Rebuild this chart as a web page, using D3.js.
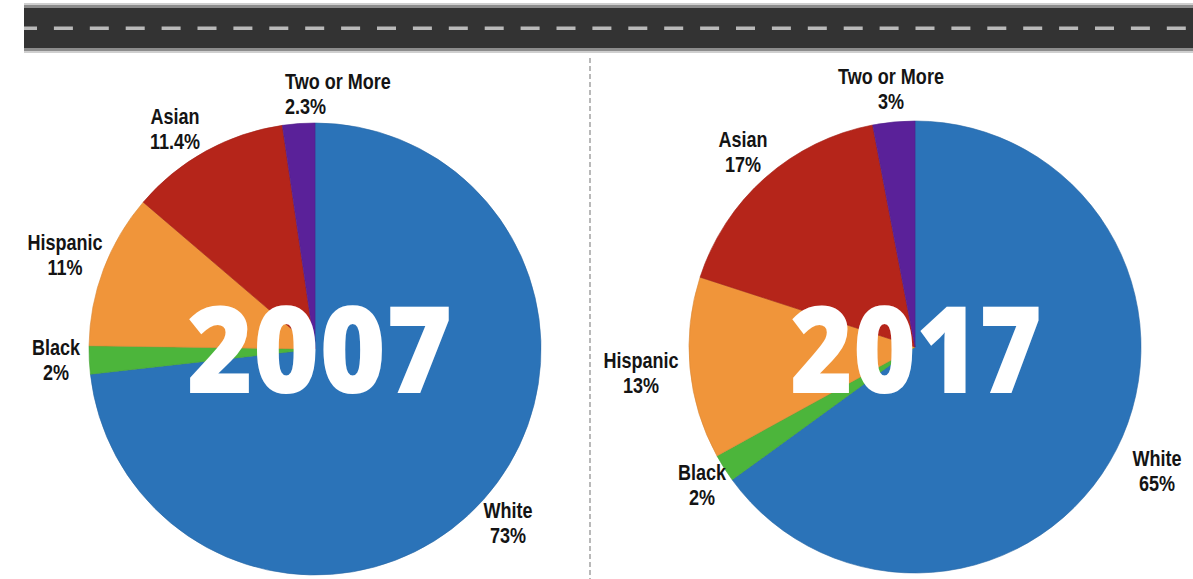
<!DOCTYPE html>
<html>
<head>
<meta charset="utf-8">
<script src="https://cdn.jsdelivr.net/npm/d3@7/dist/d3.min.js"></script>
<style>
  html, body { margin: 0; padding: 0; background: #fff; }
  svg { display: block; }
</style>
</head>
<body>
<svg id="chart" width="1193" height="579"></svg>
<script>
// Student body by race/ethnicity, share in percent
const groups = ["White", "Black", "Hispanic", "Asian", "Two or More"];
const share2007 = [73, 2, 11, 11.4, 2.3];
const share2017 = [65, 2, 13, 17, 3];
const years = ["2007", "2017"];

const groupColors = ["#2b73b8", "#4cb53b", "#f0953a", "#b5251a", "#5a2199"];

const svg = d3.select("#chart");
const W = 1193, H = 579;

// ---- road banner across the top ----
const road = svg.append("g");
road.append("rect").attr("x", 24).attr("y", 3).attr("width", W - 24).attr("height", 50).attr("fill", "#8c8c8c");
road.append("rect").attr("x", 24).attr("y", 3).attr("width", W - 24).attr("height", 2).attr("fill", "#cfcfcf");
road.append("rect").attr("x", 24).attr("y", 51).attr("width", W - 24).attr("height", 2).attr("fill", "#cfcfcf");
road.append("rect").attr("x", 24).attr("y", 8).attr("width", W - 24).attr("height", 40).attr("fill", "#333333");
const dashX = d3.range(18, W, 35.9);
road.selectAll("rect.lane").data(dashX).join("rect")
  .attr("class", "lane")
  .attr("x", d => Math.max(d, 24))
  .attr("y", 26.5)
  .attr("width", d => Math.min(d + 19, W) - Math.max(d, 24))
  .attr("height", 3.5)
  .attr("fill", "#b9b9b9");

// ---- dashed divider between the two years ----
svg.append("line")
  .attr("x1", 590).attr("x2", 590).attr("y1", 58).attr("y2", H)
  .attr("stroke", "#8a8a8a").attr("stroke-width", 1.2)
  .attr("stroke-dasharray", "5,3");

// ---- pies ----
const color = d3.scaleOrdinal().domain(groups).range(groupColors);
const pie = d3.pie().sort(null).value(d => d.value);
const radius = 226;
const arc = d3.arc().innerRadius(0).outerRadius(radius);

const panels = [
  {
    year: years[0], values: share2007, cx: 315, cy: 349,
    yearBox: { cx: 319.5, base: 393, width: 255 },
    labels: {
      "White":       { x: 508, y: 518, anchor: "middle" },
      "Black":       { x: 56,  y: 355, anchor: "middle" },
      "Hispanic":    { x: 65,  y: 250, anchor: "middle" },
      "Asian":       { x: 175, y: 124, anchor: "middle" },
      "Two or More": { x: 285, y: 89,  anchor: "start" }
    }
  },
  {
    year: years[1], values: share2017, cx: 915, cy: 347,
    yearBox: { cx: 916, base: 393, width: 242 },
    labels: {
      "White":       { x: 1157, y: 466, anchor: "middle" },
      "Black":       { x: 702,  y: 480, anchor: "middle" },
      "Hispanic":    { x: 641,  y: 368, anchor: "middle" },
      "Asian":       { x: 743,  y: 147, anchor: "middle" },
      "Two or More": { x: 891,  y: 84,  anchor: "middle" }
    }
  }
];

const labelFont = "'Liberation Sans', Arial, sans-serif";
const squeeze = 0.82;

panels.forEach(p => {
  const data = groups.map((g, i) => ({ group: g, value: p.values[i] }));
  const g = svg.append("g").attr("transform", `translate(${p.cx},${p.cy})`);

  g.selectAll("path").data(pie(data)).join("path")
    .attr("d", arc)
    .attr("fill", d => color(d.data.group))
    .attr("stroke", d => d3.color(color(d.data.group)).darker(0.3))
    .attr("stroke-width", 0.6);

  // category labels: name on one line, share below
  data.forEach(d => {
    const L = p.labels[d.group];
    const t = svg.append("text")
      .attr("transform", `translate(${L.x},${L.y}) scale(${squeeze},1)`)
      .attr("text-anchor", L.anchor)
      .attr("font-family", labelFont)
      .attr("font-weight", "bold")
      .attr("font-size", 22)
      .attr("fill", "#141414");
    t.append("tspan").attr("x", 0).attr("y", 0).text(d.group);
    t.append("tspan").attr("x", 0).attr("y", 25).text(d.value + "%");
  });

  // big year caption over the pie
  const yt = svg.append("text")
    .attr("font-family", "'Open Sans', 'DejaVu Sans', sans-serif")
    .attr("font-weight", 800)
    .attr("font-size", 121)
    .attr("fill", "#ffffff")
    .attr("text-anchor", "middle")
    .text(p.year);
  const w = yt.node().getComputedTextLength();
  const sx = p.yearBox.width / (w * 0.96);
  yt.attr("transform", `translate(${p.yearBox.cx},${p.yearBox.base}) scale(${sx},1)`);
});
</script>
</body>
</html>
